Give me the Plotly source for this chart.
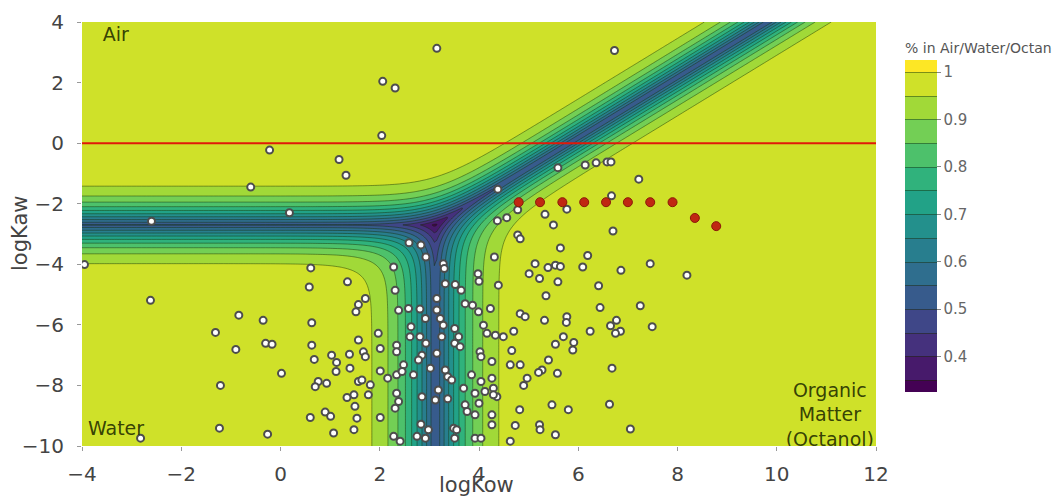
import numpy as np
import plotly.graph_objects as go

# ---- model parameters (log volume ratios relative to water)
LOG_AIR_OFFSET = 2.7      # air/water boundary at logKaw = -2.7
LOG_OCT_OFFSET = -3.12    # water/octanol boundary at logKow = 3.12
x_range = [-4, 12]
y_range = [-10, 4]
contour_start, contour_end, contour_size = 0.35, 1.0, 0.05

# ---- chemicals (white markers)
chem_x = [-0.22, -0.60, 0.18, -2.60, -3.95, -2.62, -0.84, -0.35, -1.31, -0.90, -0.30, -0.17, 0.02, -1.21, -1.23, -0.26, -2.82,
          3.15, 6.73, 2.06, 2.31, 2.04, 1.18, 1.32, 5.59, 6.14, 6.36, 6.58, 6.66, 7.22, 4.38, 6.67, 5.77, 5.33, 4.78, 4.56,
          5.50, 4.37, 4.78, 4.83, 6.70, 5.64, 4.31, 6.19, 5.13, 5.39, 5.54, 5.64, 5.01, 6.09, 6.86, 7.45, 8.19, 5.22, 5.59, 6.41,
          4.39, 5.35, 6.44, 7.25, 4.23, 4.83, 4.93, 5.32, 5.77, 5.76, 7.49, 6.77, 6.65, 6.85, 6.75, 6.24, 4.70, 4.49, 4.33, 4.16,
          5.54, 5.70, 5.91, 5.89, 4.66, 5.40, 4.63, 4.83, 5.27, 5.20, 5.58, 6.68, 4.97, 4.90, 4.26, 4.29, 4.36, 4.82, 5.47, 5.80,
          6.63, 4.73, 5.22, 5.23, 5.54, 7.05, 4.26, 4.26, 4.63, 4.09, 4.26, 4.12, 4.29,
          0.61, 0.58, 1.35, 1.71, 1.57, 1.52, 0.63, 2.28, 2.31, 2.38, 0.63, 0.68, 1.57, 1.03, 1.13, 1.12, 1.39, 1.40, 1.67, 1.71,
          1.97, 2.01, 2.01, 2.16, 2.34, 2.34, 1.57, 1.64, 1.81, 1.77, 0.76, 0.70, 0.93, 1.34, 1.48, 1.50, 0.60, 0.90, 1.01, 1.54,
          2.01, 1.07, 1.48, 2.28, 2.34, 2.31, 2.34,
          2.59, 2.83, 2.93, 3.28, 3.30, 3.32, 3.52, 3.64, 3.15, 3.98, 4.00, 3.72, 3.87, 3.99, 2.58, 2.81, 2.92, 3.15, 3.22, 3.28,
          3.51, 3.59, 2.63, 2.61, 2.81, 2.93, 3.25, 2.85, 2.78, 3.15, 3.51, 3.62, 2.48, 2.45, 3.02, 3.32, 3.37, 3.45, 2.68, 3.85,
          4.02, 4.04, 3.18, 3.69, 2.85, 3.12, 3.37, 2.38, 3.72, 3.76, 4.00, 2.83, 2.98, 3.49, 3.55, 2.75, 2.92, 3.51, 3.92, 4.04,
          2.41, 3.92, 4.04, 3.92]
chem_y = [-0.23, -1.45, -2.30, -2.58, -4.01, -5.19, -5.68, -5.85, -6.25, -6.81, -6.61, -6.64, -7.60, -8.00, -9.41, -9.61, -9.74,
          3.13, 3.06, 2.04, 1.82, 0.25, -0.54, -1.06, -0.81, -0.72, -0.65, -0.62, -0.62, -1.19, -1.52, -1.74, -2.18, -2.35, -2.20, -2.46,
          -2.70, -2.56, -3.03, -3.16, -2.90, -3.46, -3.76, -3.71, -3.98, -4.11, -4.03, -4.07, -4.31, -4.09, -4.20, -3.98, -4.36, -4.47, -4.58, -4.71,
          -4.69, -5.04, -5.43, -5.37, -5.46, -5.63, -5.73, -5.85, -5.73, -5.92, -6.06, -5.85, -6.03, -6.21, -6.28, -6.21, -6.21, -6.39, -6.34, -6.28,
          -6.64, -6.39, -6.58, -6.83, -6.85, -7.16, -7.32, -7.32, -7.49, -7.57, -7.60, -7.43, -7.76, -8.00, -7.76, -8.09, -8.37, -8.80, -8.64, -8.80,
          -8.62, -9.32, -9.30, -9.46, -9.63, -9.44, -8.97, -9.30, -9.84, -6.01, -7.21, -8.20, -8.31,
          -4.12, -4.75, -4.58, -5.13, -5.33, -5.57, -5.93, -4.09, -4.86, -5.52, -6.67, -7.14, -6.50, -7.00, -7.24, -7.54, -6.97, -7.43, -6.89, -7.05,
          -6.28, -6.78, -7.52, -7.76, -6.67, -6.89, -7.87, -7.82, -7.98, -8.31, -7.87, -8.04, -7.93, -8.40, -8.31, -8.69, -9.06, -8.88, -9.02, -9.08,
          -9.06, -9.57, -9.46, -9.68, -8.26, -8.75, -7.65,
          -3.29, -3.36, -3.76, -3.98, -4.14, -4.64, -4.67, -4.86, -5.13, -4.31, -4.56, -5.30, -5.35, -5.57, -5.46, -5.48, -5.79, -5.51, -5.79, -6.01,
          -6.12, -6.39, -6.06, -6.39, -6.39, -6.61, -6.39, -7.00, -7.16, -6.94, -6.61, -6.72, -7.32, -7.54, -7.43, -7.49, -7.71, -7.82, -7.65, -7.65,
          -6.89, -7.05, -8.15, -8.09, -8.37, -8.48, -8.44, -8.53, -8.64, -8.86, -8.59, -9.28, -9.46, -9.41, -9.46, -9.68, -9.74, -9.74, -9.74, -9.74,
          -9.84, -8.97, -7.87, -8.26]

# ---- highlighted series (red markers)
red_x = [4.80, 5.23, 5.68, 6.12, 6.56, 7.00, 7.45, 7.90, 8.35, 8.78]
red_y = [-1.95, -1.95, -1.95, -1.95, -1.95, -1.95, -1.95, -1.95, -2.47, -2.74]

# ---- surface: maximum fraction in any one of the three compartments
xg = np.linspace(x_range[0], x_range[1], 321)
yg = np.linspace(y_range[0], y_range[1], 281)
X, Y = np.meshgrid(xg, yg)
la = Y + LOG_AIR_OFFSET
lo = X + LOG_OCT_OFFSET
lw = np.zeros_like(X)
m = np.maximum(np.maximum(la, lo), lw)
ea, eo, ew = 10 ** (la - m), 10 ** (lo - m), 10 ** (lw - m)
Z = np.maximum(np.maximum(ea, eo), ew) / (ea + eo + ew)

FONT = "DejaVu Sans"
label_color = "rgba(35,45,0,0.9)"

fig = go.Figure()
fig.add_trace(go.Contour(
    x=xg, y=yg, z=Z, colorscale="Viridis",
    contours=dict(start=contour_start, end=contour_end, size=contour_size, coloring="fill"),
    line=dict(width=1, color="rgba(20,45,0,0.45)"),
    colorbar=dict(
        title=dict(text="% in Air/Water/Octanol", side="top", font=dict(size=14, color="#555", family=FONT)),
        thickness=32, len=0.88, y=0.983, yanchor="top", x=1.024, xpad=10,
        tickvals=[0.4, 0.5, 0.6, 0.7, 0.8, 0.9, 1.0], ticktext=["0.4", "0.5", "0.6", "0.7", "0.8", "0.9", "1"],
        ticks="outside", ticklen=4, tickcolor="#888",
        tickfont=dict(size=15, color="#666", family=FONT), outlinewidth=0),
    hoverinfo="skip", showscale=True))

fig.add_trace(go.Scatter(
    x=chem_x, y=chem_y, mode="markers",
    marker=dict(size=7, color="white", line=dict(color="#4d4d4d", width=2)),
    showlegend=False))
fig.add_trace(go.Scatter(
    x=red_x, y=red_y, mode="markers",
    marker=dict(size=9, color="#c02812", line=dict(color="#8a1a08", width=1)),
    showlegend=False))

fig.add_trace(go.Scatter(
    x=[-3.58], y=[3.52], mode="text", text=["Air"], textposition="middle right",
    textfont=dict(size=19, color=label_color, family=FONT), showlegend=False, hoverinfo="skip"))
fig.add_trace(go.Scatter(
    x=[-3.88], y=[-9.47], mode="text", text=["Water"], textposition="middle right",
    textfont=dict(size=19, color=label_color, family=FONT), showlegend=False, hoverinfo="skip"))
fig.add_trace(go.Scatter(
    x=[11.07], y=[-9.03], mode="text", text=["Organic<br>Matter<br>(Octanol)"], textposition="middle center",
    textfont=dict(size=19, color=label_color, family=FONT), showlegend=False, hoverinfo="skip"))

fig.add_shape(type="line", xref="x", yref="y", x0=x_range[0], x1=x_range[1], y0=0, y1=0,
              line=dict(color="#e0190a", width=2), layer="above")

axis_common = dict(showgrid=False, zeroline=False, ticks="outside", ticklen=4, tickcolor="#999",
                   tickfont=dict(size=20, color="#444", family=FONT), showline=False,
                   automargin=False)
fig.update_layout(
    width=1052, height=489,
    margin=dict(l=74, r=184, t=14, b=51, autoexpand=False),
    paper_bgcolor="white", plot_bgcolor="white",
    font=dict(family=FONT),
    xaxis=dict(range=x_range, dtick=2, ticklabelstandoff=6, **axis_common),
    yaxis=dict(range=y_range, dtick=2, ticklabelstandoff=9, **axis_common),
    showlegend=False,
    annotations=[
        dict(text="logKow", xref="paper", yref="paper", x=0.497, y=0, yanchor="middle", yshift=-39,
             showarrow=False, font=dict(size=21, color="#444", family=FONT)),
        dict(text="logKaw", xref="paper", yref="paper", x=0, y=0.5, xanchor="center", xshift=-62,
             textangle=-90, showarrow=False, font=dict(size=21, color="#444", family=FONT)),
    ],
)

fig.write_html("out.html")
